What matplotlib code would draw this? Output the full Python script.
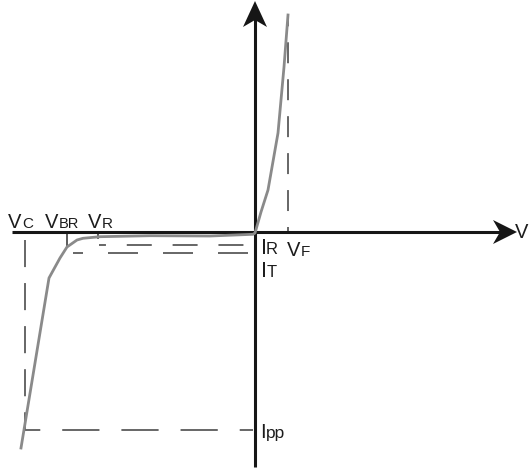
import matplotlib.pyplot as plt
from matplotlib.patches import Polygon

plt.rcParams["font.family"] = ["Liberation Sans", "DejaVu Sans"]
plt.rcParams["lines.scale_dashes"] = False

# -----------------------------------
# Data (pixel-like units, origin at axes crossing)
# -----------------------------------

curve_v = [-234, -206, -195, -188, -178, -172, -155, -105, -45, -2, 0, 6, 13, 23, 29, 33]
curve_i = [-216, -46, -26, -15, -8, -6.3, -4.7, -3.7, -4, -2.3, -1, 20, 42, 99, 165, 217]

v_c = -230
v_br = -188
v_r = -157
v_f = 33

i_r = -13.3
i_t = -21
i_pp = -198
i_f_top = 217

# label: main letter, subscript letters, positions, sizes
label_main = ["V", "V", "V", "I", "V", "I", "I", "V"]
label_sub = ["C", "BR", "R", "R", "F", "T", "pp", ""]
label_x = [-247, -210, -167, 6, 32, 6, 5, 260]
label_y = [4, 4, 4, -22, -24, -45, -206, -6]
sub_x = [-232.5, -196, -153, 11, 46, 11.7, 11, 0]
main_size = [14.5, 14.5, 14.5, 15.5, 14.5, 15.5, 14.5, 14.5]
sub_size = [11, 10.5, 11, 12, 11, 12, 12.5, 0]

# -----------------------------------
# Figure
# -----------------------------------

fig = plt.figure(figsize=(5.29, 4.70), dpi=100)
ax = fig.add_axes([0, 0, 1, 1])
ax.set_xlim(-255, 274)
ax.set_ylim(-238, 232)
ax.axis("off")

axis_color = "#161616"
dash_color = "#4d4d4d"

# axes lines
ax.plot([-243, 245], [0, 0], color=axis_color, lw=2.2, solid_capstyle="butt", zorder=3)
ax.plot([0, 0], [-235, 215], color=axis_color, lw=2.2, solid_capstyle="butt", zorder=3)

# arrow heads
ax.add_patch(Polygon(
    [(0, 231), (-12, 205), (0, 212), (12, 205)],
    closed=True, color=axis_color, lw=0, zorder=4
))
ax.add_patch(Polygon(
    [(262, 0), (238, 12), (245, 0), (238, -12)],
    closed=True, color=axis_color, lw=0, zorder=4
))

# -----------------------------------
# Dashed guide lines
# -----------------------------------

ax.plot([v_c, v_c], [-8, i_pp], color=dash_color, lw=1.2,
        dashes=(8, 0, 11.5, 11.5), zorder=2)
ax.plot([v_c, -2], [i_pp, i_pp], color=dash_color, lw=1.2,
        dashes=(11, 15.8, 15.8, 0), zorder=2)
ax.plot([v_f, v_f], [0, i_f_top], color=dash_color, lw=1.2,
        dashes=(3.6, 11.5, 11.5, 0), zorder=2)
ax.plot([v_r + 0.5, -2], [i_r, i_r], color=dash_color, lw=1.2,
        dashes=(5, 15, 13, 0), zorder=2)
ax.plot([-182, -2], [i_t, i_t], color=dash_color, lw=1.2,
        dashes=(7.2, 18, 14.4, 0), zorder=2)

# small ticks at VBR and VR
ax.plot([v_br, v_br], [0, -13], color=dash_color, lw=1.3, zorder=2)
ax.plot([v_r, v_r], [0, -6], color=dash_color, lw=1.3, zorder=2)

# -----------------------------------
# I-V curve
# -----------------------------------

ax.plot(curve_v, curve_i, color="#8a8a8a", lw=2.0, zorder=5,
        solid_joinstyle="round")

# -----------------------------------
# Labels
# -----------------------------------

for k in range(len(label_main)):
    ax.text(label_x[k], label_y[k], label_main[k], fontsize=main_size[k],
            color="#1c1c1c", ha="left", va="baseline")
    if label_sub[k]:
        ax.text(sub_x[k], label_y[k], label_sub[k], fontsize=sub_size[k],
                color="#1c1c1c", ha="left", va="baseline")

fig.savefig("out.png", dpi=100, facecolor="white")
